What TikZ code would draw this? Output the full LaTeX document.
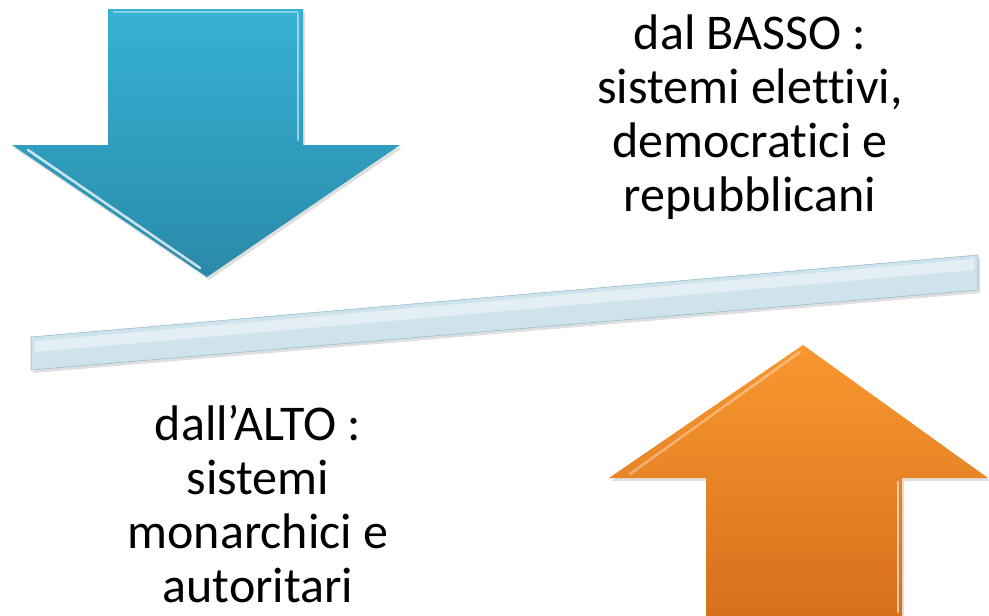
\documentclass[tikz,border=0pt]{standalone}
\usepackage{fontspec}
\setmainfont{Carlito}[Ligatures={NoCommon}]
\usetikzlibrary{shadows}

\definecolor{bluetop}{RGB}{54,178,213}
\definecolor{bluebot}{RGB}{42,138,168}
\definecolor{orangetop}{RGB}{249,152,48}
\definecolor{orangebot}{RGB}{214,112,28}
\definecolor{barfill}{RGB}{206,227,236}
\definecolor{baredge}{RGB}{150,190,205}

\begin{document}
\begin{tikzpicture}
[x=1pt,y=-1pt
,txt/.style={align=center,inner sep=0pt,font=\fontsize{50}{54}\selectfont}
,shade/.style={drop shadow={opacity=0.25,shadow xshift=2pt,shadow yshift=-3pt}}
,down/.style={shade,top color=bluetop,bottom color=bluebot,line join=miter}
,up/.style={shade,top color=orangetop,bottom color=orangebot,line join=miter}
,bar/.style={shade,fill=barfill,draw=baredge,line width=0.6pt}
,hl/.style={white,line width=2.5pt,opacity=0.75,line cap=round}
]
\useasboundingbox (0,0) rectangle (989,616);
% down arrow
\path[down] (108,9) -- (303,9) -- (303,145) -- (400,145) -- (207,277)
  -- (12,145) -- (108,145) -- cycle;
\draw[hl] (28,150) -- (200,268);
\draw[hl,opacity=0.5] (298,14) -- (298,140);
\draw[hl,opacity=0.4] (114,12) -- (297,12);
% up arrow
\path[up] (803,345) -- (988,478) -- (902,478) -- (902,616) -- (706,616)
  -- (706,478) -- (609,478) -- cycle;
\draw[hl,opacity=0.35] (630,474) -- (800,352);
\draw[hl,opacity=0.6] (898,482) -- (898,612);
% bar
\path[bar] (31,337) -- (978,255) -- (978,290) -- (31,370) -- cycle;
\fill[white,opacity=0.45] (35,341) -- (974,259) -- (974,270) -- (35,352) -- cycle;
% labels
\node[txt] (basso) at (750,117) {dal BASSO :\\sistemi elettivi,\\democratici e\\repubblicani};
\node[txt] (alto) at (258,504) {dall’ALTO :\\sistemi\\monarchici e\\autoritari};
\end{tikzpicture}
\end{document}
